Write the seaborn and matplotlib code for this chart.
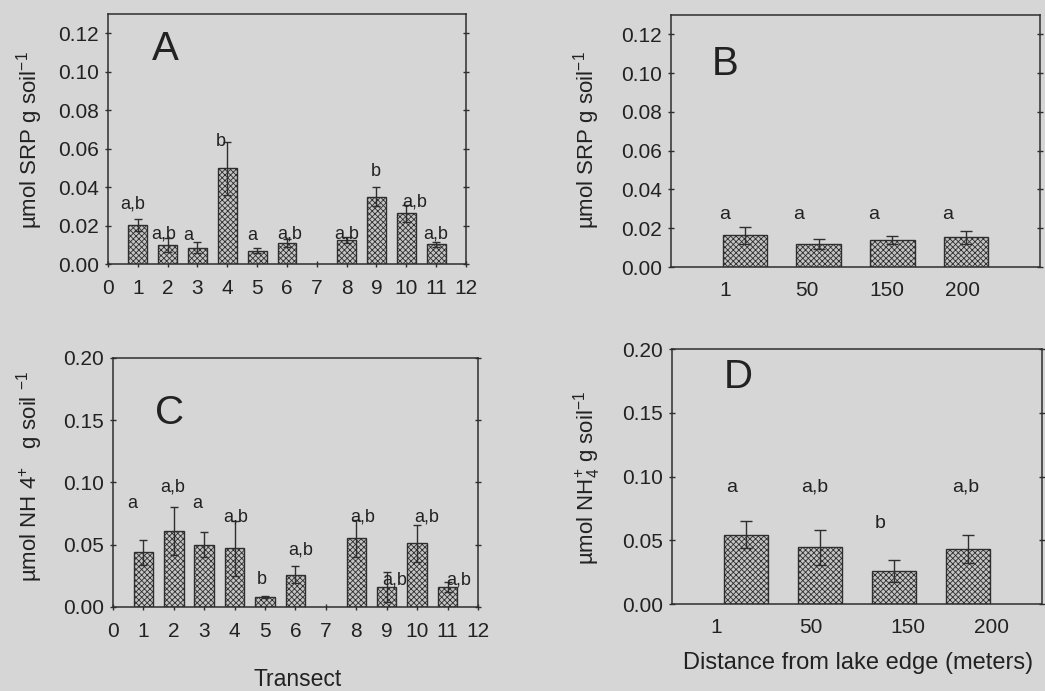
import matplotlib
matplotlib.use("Agg")
import matplotlib.pyplot as plt
import seaborn as sns
import numpy as np
import pandas as pd

# ---------------- data ----------------
transects = [1, 2, 3, 4, 5, 6, 8, 9, 10, 11]
srp_transect = [0.0202, 0.0099, 0.0085, 0.0497, 0.0070, 0.0108, 0.0125, 0.0350, 0.0264, 0.0103]
srp_transect_err = [0.0030, 0.0035, 0.0027, 0.0138, 0.0015, 0.0021, 0.0018, 0.0050, 0.0044, 0.0014]
srp_transect_letters = ["a,b", "a,b", "a", "b", "a", "a,b", "a,b", "b", "a,b", "a,b"]

nh4_transect = [0.044, 0.061, 0.050, 0.047, 0.008, 0.026, 0.055, 0.016, 0.051, 0.016]
nh4_transect_err = [0.010, 0.019, 0.010, 0.022, 0.001, 0.007, 0.015, 0.012, 0.015, 0.004]
nh4_transect_letters = ["a", "a,b", "a", "a,b", "b", "a,b", "a,b", "a,b", "a,b", "a,b"]

distances = ["1", "50", "150", "200"]
srp_distance = [0.0163, 0.0120, 0.0138, 0.0153]
srp_distance_err = [0.0045, 0.0027, 0.0021, 0.0033]
srp_distance_letters = ["a", "a", "a", "a"]

nh4_distance = [0.0544, 0.0444, 0.0256, 0.0434]
nh4_distance_err = [0.0105, 0.0140, 0.0086, 0.0110]
nh4_distance_letters = ["a", "a,b", "b", "a,b"]

transect_ticks = list(range(0, 13))

# ---------------- style ----------------
sns.set_theme(style="ticks")
BG = "#d6d6d6"
plt.rcParams["font.family"] = ["Liberation Sans", "DejaVu Sans"]
plt.rcParams["mathtext.fontset"] = "custom"
plt.rcParams["mathtext.rm"] = "Liberation Sans"
plt.rcParams["hatch.linewidth"] = 0.6
plt.rcParams["hatch.color"] = "#4a4a4a"

fig = plt.figure(figsize=(10.45, 6.91), dpi=100, facecolor=BG)

axA = fig.add_axes([0.1033, 0.6179, 0.3426, 0.3618])
axB = fig.add_axes([0.6421, 0.6136, 0.3531, 0.3647])
axC = fig.add_axes([0.1081, 0.1216, 0.3493, 0.3604])
axD = fig.add_axes([0.6431, 0.1259, 0.3541, 0.3690])

BAR_FC = "#c4c4c4"
EC = "#2e2e2e"
TICK_FS = 15
LET_FS = 13
PANEL_FS = 29


def style_axes(ax):
    ax.set_facecolor("none")
    for s in ax.spines.values():
        s.set_visible(True)
        s.set_color(EC)
        s.set_linewidth(1.1)
    ax.tick_params(axis="both", colors=EC, labelcolor="#222222", labelsize=TICK_FS,
                   direction="inout", length=5, width=1)
    ax.tick_params(axis="x", pad=8)
    ax.tick_params(axis="y", right=True, labelright=False, pad=4)
    ax.set_xlabel("")
    ax.set_ylabel("")


def hatch_bars(ax):
    for p in ax.patches:
        p.set_facecolor(BAR_FC)
        p.set_edgecolor(EC)
        p.set_hatch("xxxxxx")
        p.set_linewidth(1.0)


# ---- Panel A ----
dfA = pd.DataFrame({"x": transects, "y": srp_transect})
sns.barplot(data=dfA, x="x", y="y", native_scale=True, errorbar=None, width=0.63, ax=axA)
hatch_bars(axA)
axA.errorbar(transects, srp_transect, yerr=srp_transect_err, fmt="none", ecolor=EC,
             elinewidth=1, capsize=3, capthick=1)
A_off = [(-0.17, 0.031), (-0.12, 0.0157), (-0.31, 0.015), (-0.22, 0.0638), (-0.16, 0.015),
         (0.08, 0.0157), (0.0, 0.0157), (-0.03, 0.048), (0.29, 0.032), (-0.02, 0.0157)]
for x, lab, (dx, y) in zip(transects, srp_transect_letters, A_off):
    axA.text(x + dx, y, lab, ha="center", va="center", fontsize=LET_FS, color="#222")
axA.set_xlim(0, 12)
axA.set_ylim(0, 0.13)
axA.set_xticks(transect_ticks)
axA.set_yticks(np.arange(0, 0.121, 0.02))
axA.yaxis.set_major_formatter(matplotlib.ticker.FormatStrFormatter("%.2f"))
style_axes(axA)
axA.text(1.91, 0.1116, "A", ha="center", va="center", fontsize=PANEL_FS, color="#222")

# ---- Panel B ----
dfB = pd.DataFrame({"d": distances, "y": srp_distance})
sns.barplot(data=dfB, x="d", y="y", errorbar=None, width=0.6, ax=axB, order=distances)
hatch_bars(axB)
xb = np.arange(len(distances))
axB.errorbar(xb, srp_distance, yerr=srp_distance_err, fmt="none", ecolor=EC,
             elinewidth=1, capsize=4, capthick=1)
B_off = [-0.27, -0.27, -0.26, -0.25]
for x, lab, dx in zip(xb, srp_distance_letters, B_off):
    axB.text(x + dx, 0.027, lab, ha="center", va="center", fontsize=LET_FS + 1, color="#222")
axB.set_xlim(-1, 4)
axB.set_ylim(0, 0.13)
axB.set_xticks(xb + np.array([-0.26, -0.16, -0.08, -0.05]))
axB.set_xticklabels(distances)
axB.set_yticks(np.arange(0, 0.121, 0.02))
axB.yaxis.set_major_formatter(matplotlib.ticker.FormatStrFormatter("%.2f"))
style_axes(axB)
axB.tick_params(axis="x", length=0, pad=10)
axB.text(-0.27, 0.1045, "B", ha="center", va="center", fontsize=PANEL_FS, color="#222")

# ---- Panel C ----
dfC = pd.DataFrame({"x": transects, "y": nh4_transect})
sns.barplot(data=dfC, x="x", y="y", native_scale=True, errorbar=None, width=0.64, ax=axC)
hatch_bars(axC)
axC.errorbar(transects, nh4_transect, yerr=nh4_transect_err, fmt="none", ecolor=EC,
             elinewidth=1, capsize=3, capthick=1)
C_off = [(-0.38, 0.0835), (-0.05, 0.096), (-0.23, 0.0835), (0.05, 0.072), (-0.1, 0.022),
         (0.16, 0.046), (0.2, 0.072), (0.26, 0.022), (0.33, 0.072), (0.37, 0.022)]
for x, lab, (dx, y) in zip(transects, nh4_transect_letters, C_off):
    axC.text(x + dx, y, lab, ha="center", va="center", fontsize=LET_FS, color="#222")
axC.set_xlim(0, 12)
axC.set_ylim(0, 0.20)
axC.set_xticks(transect_ticks)
axC.set_yticks(np.arange(0, 0.201, 0.05))
axC.yaxis.set_major_formatter(matplotlib.ticker.FormatStrFormatter("%.2f"))
style_axes(axC)
axC.text(1.87, 0.156, "C", ha="center", va="center", fontsize=PANEL_FS, color="#222")

# ---- Panel D ----
dfD = pd.DataFrame({"d": distances, "y": nh4_distance})
sns.barplot(data=dfD, x="d", y="y", errorbar=None, width=0.6, ax=axD, order=distances)
hatch_bars(axD)
axD.errorbar(xb, nh4_distance, yerr=nh4_distance_err, fmt="none", ecolor=EC,
             elinewidth=1, capsize=4, capthick=1)
D_off = [(-0.2, 0.0915), (-0.07, 0.0915), (-0.19, 0.0635), (-0.03, 0.0915)]
for x, lab, (dx, y) in zip(xb, nh4_distance_letters, D_off):
    axD.text(x + dx, y, lab, ha="center", va="center", fontsize=LET_FS + 1, color="#222")
axD.set_xlim(-1, 4)
axD.set_ylim(0, 0.20)
axD.set_xticks(xb + np.array([-0.4, -0.12, 0.19, 0.31]))
axD.set_xticklabels(distances)
axD.set_yticks(np.arange(0, 0.201, 0.05))
axD.yaxis.set_major_formatter(matplotlib.ticker.FormatStrFormatter("%.2f"))
style_axes(axD)
axD.tick_params(axis="x", length=0, pad=10)
axD.text(-0.1, 0.178, "D", ha="center", va="center", fontsize=PANEL_FS, color="#222")

# ---- axis labels ----
LAB_FS = 16
srp_label = r"µmol SRP g soil$^{\mathregular{-1}}$"
fig.text(30 / 1045, 1 - 140 / 691, srp_label, rotation=90, ha="center", va="center",
         fontsize=LAB_FS, color="#222")
fig.text(587 / 1045, 1 - 140 / 691, srp_label, rotation=90, ha="center", va="center",
         fontsize=LAB_FS, color="#222")
fig.text(30 / 1045, 1 - 476 / 691, r"µmol NH 4$^{\mathregular{+}}$   g soil $^{\mathregular{-1}}$",
         rotation=90, ha="center", va="center", fontsize=LAB_FS, color="#222")
fig.text(587 / 1045, 1 - 478 / 691,
         r"µmol NH$_{\mathregular{4}}^{\mathregular{+}}$ g soil$^{\mathregular{-1}}$",
         rotation=90, ha="center", va="center", fontsize=LAB_FS, color="#222")
fig.text(298 / 1045, 1 - 679 / 691, "Transect", ha="center", va="center",
         fontsize=LAB_FS + 0.5, color="#222")
fig.text(858 / 1045, 1 - 663 / 691, "Distance from lake edge (meters)", ha="center",
         va="center", fontsize=LAB_FS + 1, color="#222")

fig.savefig("out.png", dpi=100, facecolor=BG)
